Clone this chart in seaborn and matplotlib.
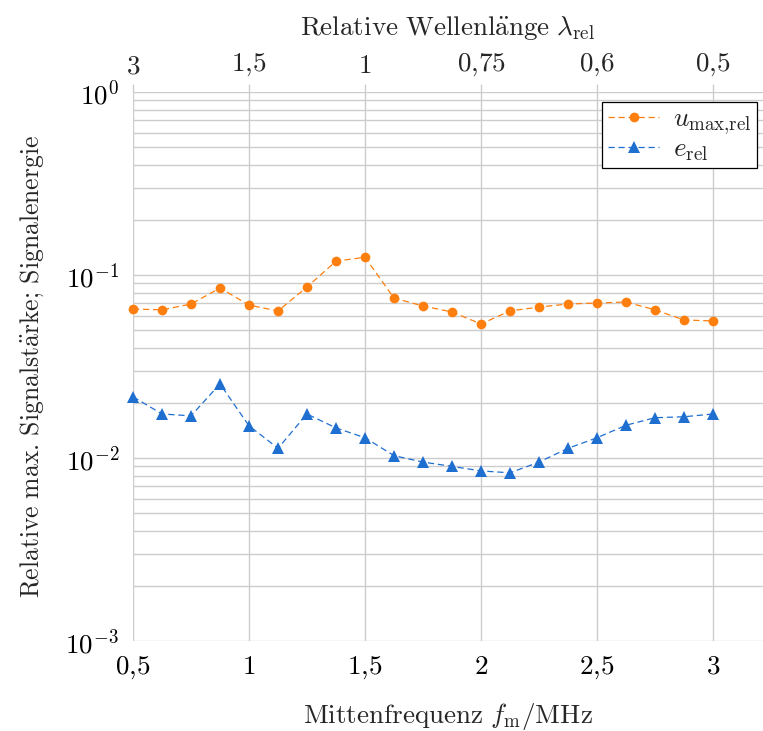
import numpy as np
import pandas as pd
import matplotlib
matplotlib.use("Agg")
import matplotlib.pyplot as plt
import matplotlib.ticker as mticker
import seaborn as sns

freq = [0.5, 0.625, 0.75, 0.875, 1.0, 1.125, 1.25, 1.375, 1.5, 1.625, 1.75,
        1.875, 2.0, 2.125, 2.25, 2.375, 2.5, 2.625, 2.75, 2.875, 3.0]
u_max_rel = [0.0652, 0.0645, 0.0694, 0.0849, 0.0685, 0.0636, 0.0860, 0.119, 0.125,
             0.0748, 0.0677, 0.0628, 0.0540, 0.0636, 0.0668, 0.0694, 0.0703, 0.0712,
             0.0645, 0.0568, 0.0561]
e_rel = [0.0216, 0.0174, 0.0170, 0.0254, 0.0150, 0.0113, 0.0174, 0.0146, 0.0129,
         0.0103, 0.0095, 0.0090, 0.0085, 0.0083, 0.0095, 0.0113, 0.0129, 0.0151,
         0.0166, 0.0168, 0.0174]
x_ticks = [0.5, 1.0, 1.5, 2.0, 2.5, 3.0]
x_ticklabels = [r"$0{,}5$", r"$1$", r"$1{,}5$", r"$2$", r"$2{,}5$", r"$3$"]
top_ticks = [3.0, 1.5, 1.0, 0.75, 0.6, 0.5]
top_ticklabels = [r"$3$", r"$1{,}5$", r"$1$", r"$0{,}75$", r"$0{,}6$", r"$0{,}5$"]
y_ticks = [1e-3, 1e-2, 1e-1, 1.0]
y_ticklabels = [r"$10^{-3}$", r"$10^{-2}$", r"$10^{-1}$", r"$10^{0}$"]

sns.set_theme(style="white")
plt.rcParams['font.family'] = ['cmr10', 'DejaVu Serif']
plt.rcParams['mathtext.fontset'] = 'cm'
plt.rcParams['axes.formatter.use_mathtext'] = True
plt.rcParams['axes.unicode_minus'] = False

orange = "#ff7f0e"
blue = "#1f6fd0"
grid_c = "#cccccc"
fs = 19.5

fig = plt.figure(figsize=(7.63, 7.31), dpi=100)
ax = fig.add_axes([133/763, 1 - 641/731, 630/763, (641 - 92)/731])

df = pd.DataFrame({"f": freq, "u": u_max_rel, "e": e_rel})
sns.lineplot(data=df, x="f", y="u", ax=ax, color=orange, linestyle=(0, (5, 3)),
             linewidth=0.9, marker="o", markersize=7, markeredgewidth=0,
             label=r"$u_{\mathrm{max{,}rel}}$")
sns.lineplot(data=df, x="f", y="e", ax=ax, color=blue, linestyle=(0, (5, 3)),
             linewidth=0.9, marker="^", markersize=8, markeredgewidth=0,
             label=r"$e_{\mathrm{rel}}$")
for l in ax.lines:
    l.set_clip_on(False)

ax.set_yscale("log")
ax.set_ylim(1e-3, 1.0)
ax.set_xlim(0.5, 0.5 + 630/232)

ax.set_xticks(x_ticks)
ax.set_xticklabels(x_ticklabels, fontsize=fs)
ax.yaxis.set_minor_locator(mticker.LogLocator(base=10, subs=np.arange(2, 10), numticks=20))
ax.yaxis.set_minor_formatter(mticker.NullFormatter())
ax.set_yticks(y_ticks)
ax.set_yticklabels(y_ticklabels, fontsize=fs)

ax.grid(True, which="major", color=grid_c, linewidth=1.0)
ax.grid(True, which="minor", axis="y", color=grid_c, linewidth=1.0)
ax.set_axisbelow(True)
for s in ax.spines.values():
    s.set_visible(False)
ax.tick_params(axis="both", which="major", direction="out", length=6, width=1.0,
               color=grid_c, pad=4, labelcolor="black")
ax.tick_params(axis="y", which="minor", direction="out", length=3, width=1.0, color=grid_c)

ax.set_xlabel(r"$\mathrm{Mittenfrequenz}\ f_{\mathrm{m}}/\mathrm{MHz}$", fontsize=fs, labelpad=14)
ax.set_ylabel(r"$\mathrm{Relative\ max.\,Signalst\ddot{a}rke;\,Signalenergie}$",
              fontsize=18.5, labelpad=14)

sec = ax.secondary_xaxis("top", functions=(lambda f: 1.5 / np.asarray(f, dtype=float),
                                           lambda l: 1.5 / np.asarray(l, dtype=float)))
sec.set_xticks(top_ticks)
sec.set_xticklabels(top_ticklabels, fontsize=fs)
sec.xaxis.set_minor_locator(mticker.NullLocator())
sec.tick_params(axis="x", which="major", direction="out", length=6, width=1.0,
                color=grid_c, pad=4)
for s in sec.spines.values():
    s.set_visible(False)
sec.set_xlabel(r"$\mathrm{Relative\ Wellenl\ddot{a}nge}\ \lambda_{\mathrm{rel}}$",
               fontsize=fs, labelpad=12)

leg = ax.legend(loc="upper right", bbox_to_anchor=(1 - 6/630, 1 - 10/549), fontsize=19.5,
                frameon=True, fancybox=False, edgecolor="black", framealpha=1,
                borderpad=0.2, handlelength=1.9, handletextpad=0.5, labelspacing=0.02,
                borderaxespad=0)
leg.get_frame().set_linewidth(0.9)

fig.savefig("out.png", dpi=100)
